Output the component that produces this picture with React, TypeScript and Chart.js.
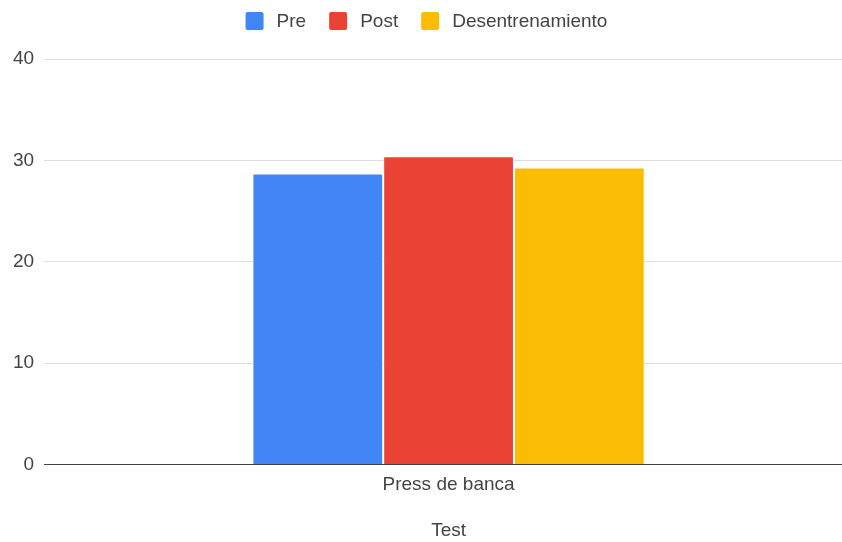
import React, { useEffect, useRef } from "react";
import { Chart, registerables } from "chart.js";

Chart.register(...registerables);

const categories = ["Press de banca"];
const seriesNames = ["Pre", "Post", "Desentrenamiento"];
const preValues = [28.7];
const postValues = [30.4];
const detrainingValues = [29.3];
const seriesColors = ["#4285F4", "#EA4335", "#FBBC04"];
const yMax = 40;
const yStep = 10;
const xTitle = "Test";

const FONT_FAMILY = '"Liberation Sans", Arial, sans-serif';
const FONT_SIZE = 19;
const TEXT_COLOR = "#444";

// Legend drawn centered across the top, Google-Sheets style
const topLegend = {
  id: "topLegend",
  afterDraw(chart: any) {
    const ctx = chart.ctx as CanvasRenderingContext2D;
    const box = 18;
    const gapText = 13;
    const gapItem = 23;
    const cy = 21;
    ctx.save();
    ctx.font = `${FONT_SIZE}px ${FONT_FAMILY}`;
    const items = chart.data.datasets.map((ds: any) => ({
      label: ds.label as string,
      color: ds.backgroundColor as string,
      w: ctx.measureText(ds.label).width,
    }));
    const total =
      items.reduce((s: number, it: any) => s + box + gapText + it.w, 0) +
      gapItem * (items.length - 1);
    let x = (chart.width - total) / 2;
    ctx.textBaseline = "middle";
    ctx.textAlign = "left";
    for (const it of items) {
      ctx.fillStyle = it.color;
      ctx.beginPath();
      (ctx as any).roundRect(x, cy - box / 2, box, box, 2);
      ctx.fill();
      ctx.fillStyle = TEXT_COLOR;
      ctx.fillText(it.label, x + box + gapText, cy + 1);
      x += box + gapText + it.w + gapItem;
    }
    ctx.restore();
  },
};

export default function App() {
  const canvasRef = useRef<HTMLCanvasElement | null>(null);

  useEffect(() => {
    document.body.style.margin = "0";
    const canvas = canvasRef.current;
    if (!canvas) return;
    const values = [preValues, postValues, detrainingValues];
    const chart = new Chart(canvas, {
      type: "bar",
      data: {
        labels: categories,
        datasets: seriesNames.map((name, i) => ({
          label: name,
          data: values[i],
          backgroundColor: seriesColors[i],
          borderColor: "#ffffff",
          borderWidth: 1,
          borderRadius: 2,
          categoryPercentage: 0.485,
          barPercentage: 1,
        })),
      },
      options: {
        responsive: false,
        animation: false,
        devicePixelRatio: 1,
        layout: { padding: { top: 59, left: 3, right: 0, bottom: 0 } },
        plugins: {
          legend: { display: false },
          tooltip: { enabled: false },
        },
        scales: {
          x: {
            grid: { display: false, drawTicks: false },
            border: { display: true, color: "#444", width: 1 },
            ticks: {
              color: TEXT_COLOR,
              font: { family: FONT_FAMILY, size: FONT_SIZE },
              padding: 9,
            },
            title: {
              display: true,
              text: xTitle,
              color: TEXT_COLOR,
              font: { family: FONT_FAMILY, size: FONT_SIZE },
              padding: { top: 14, bottom: 0 },
            },
          },
          y: {
            min: 0,
            max: yMax,
            grid: { color: "#dddddd", drawTicks: false },
            border: { display: false },
            ticks: {
              stepSize: yStep,
              color: TEXT_COLOR,
              font: { family: FONT_FAMILY, size: FONT_SIZE },
              padding: 10,
            },
          },
        },
      },
      plugins: [topLegend],
    });
    return () => chart.destroy();
  }, []);

  return (
    <div style={{ width: 842, height: 542, overflow: "hidden" }}>
      <canvas ref={canvasRef} width={853} height={542} style={{ display: "block" }} />
    </div>
  );
}
